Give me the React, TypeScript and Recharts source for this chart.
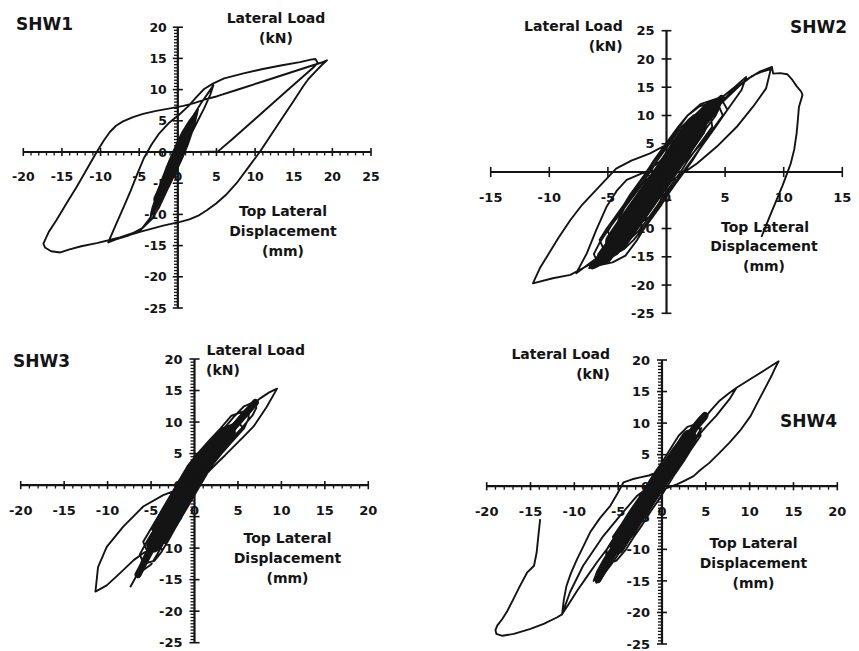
import React from 'react';
import { LineChart, Line, XAxis, YAxis, ReferenceLine, ReferenceDot } from 'recharts';

// ---------------- data (displacement mm, load kN) ----------------
const shw1Curve: number[][] = [
  [0, 0], [0.45, 1.5], [0.85, 2.5], [1.2, 3.2],
  [1.0, 2.2], [0.7, 1.0], [0.3, -0.6], [-0.25, -2.2], [-0.8, -3.7], [-1.5, -5.0],
  [-1.35, -3.8], [-1.0, -2.6], [-0.55, -1.2], [-0.1, 0.3], [0.4, 1.8], [1.0, 3.3], [1.8, 4.8],
  [1.5, 3.4], [1.1, 1.8], [0.6, 0.1], [0.0, -1.8], [-0.7, -3.8], [-1.5, -5.8], [-2.3, -7.2],
  [-2.2, -6.0], [-1.8, -4.5], [-1.3, -2.8], [-0.75, -0.9], [-0.2, 1.0], [0.5, 2.8], [1.3, 4.5], [2.3, 6.0],
  [2.0, 4.5], [1.6, 2.8], [1.05, 0.8], [0.4, -1.2], [-0.4, -3.4], [-1.2, -5.6], [-2.1, -7.5], [-3.0, -9.0],
  [-2.9, -7.8], [-2.6, -6.4], [-2.1, -4.6], [-1.5, -2.6], [-0.9, -0.8], [-0.2, 1.2], [0.6, 3.2], [1.5, 5.0], [2.6, 6.8],
  [2.3, 5.2], [1.9, 3.4], [1.3, 1.2], [0.6, -0.9], [-0.2, -3.0], [-1.1, -5.4], [-2.0, -7.4], [-2.8, -9.0], [-3.5, -10.2],
  [-3.3, -9.0], [-2.8, -7.2], [-2.2, -5.2], [-1.5, -3.0], [-0.8, -0.9], [0.0, 1.4], [0.9, 3.6], [2.0, 5.8], [3.0, 7.8], [4.0, 9.6], [4.6, 10.7],
  [4.2, 9.2], [3.4, 7.0], [2.5, 4.8], [1.6, 2.6], [0.8, 0.6], [0.0, -1.6], [-0.9, -4.0], [-1.9, -6.6], [-2.9, -9.0], [-3.6, -10.6],
  [-4.6, -12.2], [-6.4, -13.4], [-8.0, -14.0], [-9.0, -14.5],
  [-8.7, -13.6], [-8.0, -11.6], [-7.0, -8.8], [-6.1, -6.2], [-5.2, -3.4], [-4.4, -1.0], [-3.4, 1.2], [-2.4, 3.0], [-1.2, 4.6], [0.2, 6.0], [1.4, 7.4], [2.4, 8.8], [3.4, 10.1], [4.6, 11.0], [6.0, 11.8], [8.5, 12.6], [11.0, 13.3], [13.5, 13.9], [15.8, 14.4], [17.2, 14.8], [17.8, 14.9], [18.1, 14.3], [17.5, 13.5],
  [14.0, 9.7], [10.0, 5.3], [7.0, 2.0], [5.2, 0.1],
  [2.5, 0.0], [0.6, 0.0],
  [-0.2, -2.4], [-1.2, -5.6], [-2.4, -8.8], [-3.4, -10.8], [-4.9, -12.6], [-7.5, -13.7], [-10.5, -14.6], [-12.5, -15.1], [-14.0, -15.6], [-15.2, -16.1], [-16.4, -15.9], [-17.2, -15.3], [-17.4, -14.7],
  [-16.7, -12.8], [-15.7, -10.9], [-14.4, -8.2], [-13.1, -5.6], [-11.8, -2.8], [-10.5, 0.0], [-9.6, 1.8], [-8.8, 3.2], [-8.0, 4.2], [-7.1, 4.9], [-5.8, 5.6], [-4.5, 6.1], [-2.8, 6.6], [-1.0, 7.0], [0.7, 7.4], [2.0, 7.8], [3.0, 8.2], [3.7, 8.5], [5.0, 8.9], [8.0, 10.1], [11.0, 11.3], [14.0, 12.5], [17.0, 13.7], [18.5, 14.3], [19.3, 14.7],
  [18.6, 13.9], [17.9, 13.0], [16.9, 11.7], [16.2, 10.5], [14.9, 8.0], [13.6, 5.6], [12.1, 2.8], [10.6, 0.0], [9.1, -2.5], [7.6, -5.0], [6.2, -6.9], [5.0, -8.2], [3.8, -9.3], [2.8, -10.1], [1.5, -10.8], [0.3, -11.2], [-1.9, -11.8], [-4.9, -12.8], [-7.6, -13.8], [-9.0, -14.3],
];
const shw1Band: number[][] = [[-3.3, -9.8], [-1.6, -4.8], [0.0, 0.0], [1.2, 3.4], [2.3, 6.0]];
const shw1BandCore: number[][] = [[-2.6, -7.6], [-1.2, -3.6], [0.0, 0.0], [1.1, 3.0]];

const shw2Curve: number[][] = [
  [-0.1, 0], [0.3, 1.6], [0.7, 2.9], [1.2, 4.0],
  [1.1, 2.6], [0.6, 0.8], [0.0, -1.4], [-0.7, -3.0], [-1.8, -5.0],
  [-1.6, -3.4], [-1.2, -1.8], [-0.6, 0.0], [0.1, 1.9], [0.8, 3.9], [1.6, 5.6], [2.2, 7.0],
  [2.1, 5.6], [1.9, 4.0], [1.3, 2.0], [0.6, 0.0], [-0.1, -2.0], [-0.8, -4.0], [-1.6, -5.8], [-2.8, -8.0],
  [-2.9, -6.0], [-2.3, -4.0], [-1.6, -2.0], [-0.9, 0.0], [-0.2, 2.0], [0.3, 4.0], [1.2, 6.5], [2.0, 8.0], [2.9, 9.0],
  [3.2, 7.0], [2.2, 4.0], [1.6, 2.0], [0.9, 0.0], [0.2, -2.0], [-0.5, -4.0], [-1.1, -6.0], [-1.8, -8.0], [-2.6, -9.8], [-3.8, -11.0],
  [-4.1, -8.5], [-3.5, -6.0], [-2.8, -4.0], [-2.1, -2.0], [-1.4, 0.0], [-0.8, 2.0], [-0.1, 4.0], [0.6, 6.0], [1.3, 8.0], [2.3, 10.0], [3.7, 11.0],
  [3.9, 8.0], [3.2, 6.0], [2.5, 4.0], [1.8, 2.0], [1.2, 0.0], [0.5, -2.0], [-0.2, -4.0], [-0.8, -6.0], [-1.5, -8.0], [-2.4, -10.5], [-3.2, -12.0], [-4.5, -13.0],
  [-5.0, -10.5], [-4.3, -8.0], [-3.6, -6.0], [-2.9, -4.0], [-2.3, -2.0], [-1.6, 0.0], [-1.0, 2.0], [-0.3, 4.0], [0.4, 6.0], [1.1, 8.0], [1.8, 10.0], [2.8, 11.6], [4.3, 12.5],
  [4.8, 10.0], [4.1, 8.0], [3.4, 6.0], [2.8, 4.0], [2.1, 2.0], [1.4, 0.0], [0.7, -2.0], [0.0, -4.0], [-0.6, -6.0], [-1.3, -8.0], [-2.0, -10.0], [-2.8, -12.0], [-3.6, -13.6], [-5.1, -15.0],
  [-5.7, -12.0], [-5.1, -10.0], [-4.4, -8.0], [-3.7, -6.0], [-3.1, -4.0], [-2.4, -2.0], [-1.7, 0.0], [-1.1, 2.0], [-0.4, 4.0], [0.3, 6.0], [1.0, 8.0], [1.8, 10.0], [2.9, 12.0], [4.6, 13.2],
  [5.2, 11.0], [4.2, 8.0], [3.5, 6.0], [2.8, 4.0], [2.2, 2.0], [1.5, 0.0], [0.8, -2.0], [0.1, -4.0], [-0.5, -6.0], [-1.2, -8.0], [-1.9, -10.0], [-2.5, -12.0], [-3.5, -14.8], [-4.6, -16.0], [-5.8, -16.5],
  [-6.2, -14.5], [-5.7, -12.5], [-4.9, -10.0], [-4.0, -7.5], [-3.1, -5.0], [-2.0, -2.0], [-1.0, 0.0], [-0.1, 2.5], [0.6, 5.0], [1.5, 7.5], [2.4, 10.0], [3.4, 12.0], [4.8, 13.0],
  [4.2, 10.0], [3.3, 7.5], [2.4, 5.0], [1.6, 2.5], [0.8, 0.0], [0.0, -2.5], [-0.9, -5.0], [-1.7, -7.5], [-2.6, -10.0], [-3.4, -12.5], [-4.2, -14.5], [-5.5, -16.0], [-6.6, -17.0],
  [-6.2, -16.0], [-5.4, -15.0], [-4.6, -12.5], [-3.8, -10.0], [-3.0, -7.5], [-2.1, -5.0], [-1.2, -2.5], [-0.4, 0.0], [0.4, 2.5], [1.2, 5.0], [2.0, 7.5], [3.0, 10.0], [3.9, 12.0], [4.9, 13.5],
  [5.8, 15.0], [6.8, 16.8],
  [6.4, 14.5], [5.4, 11.6], [4.3, 8.4], [3.2, 5.6], [2.2, 3.2], [1.2, 1.1], [0.3, -0.6], [-0.2, -2.6], [-0.5, -5.0], [-0.7, -6.4], [-1.4, -7.9], [-2.4, -9.1], [-3.3, -10.0], [-4.6, -12.4], [-6.2, -15.6], [-7.7, -17.9],
  [-6.8, -14.4], [-6.0, -10.3], [-5.1, -6.1], [-4.2, -3.2], [-3.4, -1.4], [-2.4, -0.5], [-1.6, 0.2], [-0.6, 1.8], [0.6, 4.0], [2.0, 6.8], [3.5, 9.8], [4.8, 12.4], [6.2, 15.2], [7.3, 17.0], [8.1, 17.7], [8.9, 18.2],
  [8.5, 14.8], [7.4, 11.6], [6.0, 8.0], [4.3, 4.5], [2.6, 1.5], [1.4, -0.2], [0.4, -1.6], [-0.8, -4.6], [-2.2, -8.4], [-3.6, -11.6], [-4.8, -13.6], [-6.4, -16.2], [-7.4, -17.3], [-8.2, -18.2], [-9.7, -18.8], [-11.4, -19.7],
  [-10.8, -17.0], [-10.0, -14.3], [-9.2, -11.6], [-8.2, -8.5], [-7.2, -5.8], [-6.2, -3.6], [-5.2, -1.4], [-4.3, 0.6], [-3.0, 2.0], [-1.4, 3.3], [0.15, 5.0], [1.7, 6.8], [3.1, 9.2], [4.0, 11.0], [5.4, 13.9], [6.8, 16.3], [8.0, 17.8], [9.0, 18.6],
  [9.1, 17.4], [9.7, 17.5], [10.3, 17.3], [10.7, 16.4], [11.1, 15.2], [11.5, 14.2], [11.6, 13.6], [11.3, 11.5], [11.2, 9.0], [11.1, 6.8], [10.9, 4.0], [10.6, 1.5], [10.3, -0.2], [9.9, -2.4], [9.5, -4.4], [8.8, -7.9], [8.1, -11.5],
];
const shw2Band: number[][] = [[-6.3, -16.6], [-5.1, -15.0], [-3.5, -10.0], [-1.8, -5.0], [-0.1, 0.0], [1.5, 5.0], [3.3, 10.0], [4.7, 13.0]];
const shw2BandMid: number[][] = [[-5.3, -15.0], [-3.5, -10.0], [-1.8, -5.0], [-0.1, 0.0], [1.5, 5.0], [3.2, 9.8], [3.9, 11.4]];
const shw2BandCore: number[][] = [[-4.3, -12.4], [-3.5, -10.0], [-1.8, -5.0], [-0.1, 0.0], [1.5, 5.0], [2.5, 8.0]];

const shw3Curve: number[][] = [
  [-0.7, 0], [-0.3, 1.0], [0.2, 2.2], [0.6, 3.2], [1.1, 4.0],
  [0.9, 3.0], [0.25, 1.5], [-0.4, 0.0], [-1.25, -2.0], [-1.9, -3.5], [-2.8, -5.0],
  [-2.55, -3.0], [-1.7, -1.0], [-0.85, 1.0], [0.0, 3.0], [1.15, 5.0], [2.4, 6.0],
  [2.35, 5.0], [1.2, 3.0], [0.35, 1.0], [-0.5, -1.0], [-1.35, -3.0], [-2.2, -5.0], [-3.65, -7.0],
  [-3.7, -5.0], [-2.85, -3.0], [-2.0, -1.0], [-1.15, 1.0], [-0.3, 3.0], [0.85, 5.0], [2.15, 7.0], [3.75, 8.0],
  [3.95, 7.0], [2.65, 5.0], [1.5, 3.0], [0.65, 1.0], [-0.2, -1.0], [-1.05, -3.0], [-1.9, -5.0], [-2.75, -7.0], [-4.5, -9.0],
  [-4.85, -7.0], [-4.0, -5.0], [-3.15, -3.0], [-2.3, -1.0], [-1.45, 1.0], [-0.6, 3.0], [0.55, 5.0], [1.85, 7.0], [3.2, 9.0], [5.05, 10.0],
  [5.6, 9.0], [4.25, 7.0], [2.95, 5.0], [1.8, 3.0], [0.95, 1.0], [0.1, -1.0], [-0.75, -3.0], [-1.6, -5.0], [-2.45, -7.0], [-3.3, -9.0], [-5.3, -11.0],
  [-5.9, -9.0], [-5.05, -7.0], [-4.2, -5.0], [-3.35, -3.0], [-2.5, -1.0], [-1.65, 1.0], [-0.8, 3.0], [0.35, 5.0], [1.65, 7.0], [3.0, 9.0], [4.25, 11.0], [6.3, 12.0],
  [6.2, 10.5], [5.7, 9.0], [4.4, 7.0], [3.1, 5.0], [1.95, 3.0], [1.1, 1.0], [0.25, -1.0], [-0.6, -3.0], [-1.45, -5.0], [-2.3, -7.0], [-3.1, -9.0], [-3.9, -10.8], [-4.6, -12.0], [-5.85, -12.5],
  [-6.3, -11.0], [-5.5, -9.0], [-4.65, -7.0], [-3.8, -5.0], [-2.95, -3.0], [-2.1, -1.0], [-1.25, 1.0], [-0.4, 3.0], [0.75, 5.0], [2.05, 7.0], [3.4, 9.0], [4.65, 11.0], [5.7, 12.5], [7.1, 13.3],
  [7.1, 12.2], [6.65, 11.0], [5.4, 9.0], [4.05, 7.0], [2.75, 5.0], [1.6, 3.0], [0.75, 1.0], [-0.1, -1.0], [-0.95, -3.0], [-1.8, -5.0], [-2.65, -7.0], [-3.5, -9.0], [-4.3, -11.0], [-5.0, -12.6], [-6.4, -14.0],
  [-6.05, -12.0], [-5.3, -10.0], [-4.45, -8.0], [-3.6, -6.0], [-2.8, -4.0], [-1.95, -2.0], [-1.1, 0.0], [-0.25, 2.0], [0.7, 4.0], [2.0, 6.0], [3.35, 8.0], [4.65, 10.0], [5.9, 12.0], [6.9, 13.0],
  [7.6, 13.8], [8.6, 14.7], [9.5, 15.3],
  [8.3, 12.4], [6.8, 9.3], [5.6, 7.6], [4.5, 6.1], [3.5, 4.7], [2.6, 3.5], [1.8, 2.4], [1.1, 1.4], [0.4, 0.3], [-0.5, -0.5], [-1.7, -0.6],
  [-3.6, -1.6], [-5.9, -3.4], [-8.2, -6.6], [-10.1, -9.8], [-11.1, -13.0], [-11.4, -16.9],
  [-10.1, -15.9], [-8.6, -14.0], [-7.0, -11.9], [-5.9, -10.8], [-4.4, -9.7],
  [-3.4, -7.2], [-2.4, -4.6], [-3.6, -8.2], [-5.0, -10.8], [-6.2, -13.2], [-7.4, -16.2],
];
const shw3Band: number[][] = [[-6.5, -14.2], [-4.9, -10.0], [-2.8, -5.0], [-0.7, 0.0], [0.8, 3.5], [2.4, 6.0], [4.4, 9.0], [6.3, 12.0], [7.0, 13.1]];
const shw3BandCore: number[][] = [[-4.7, -9.5], [-2.8, -5.0], [-0.7, 0.0], [0.8, 3.5], [2.4, 6.0], [3.9, 8.3]];

const shw4Curve: number[][] = [
  [-0.6, 0], [0.0, 1.5], [0.6, 2.8], [1.3, 4.0],
  [1.0, 2.6], [0.4, 1.0], [-0.3, 0.0], [-1.0, -1.6], [-1.9, -3.4], [-2.95, -5.0],
  [-2.6, -3.0], [-1.9, -1.5], [-1.2, 0.0], [-0.5, 1.5], [0.2, 3.0], [0.9, 4.5], [2.2, 6.0],
  [1.9, 4.5], [1.3, 3.0], [0.7, 1.5], [0.0, 0.0], [-0.7, -1.5], [-1.4, -3.0], [-2.1, -4.5], [-2.9, -6.0], [-4.1, -7.5],
  [-4.0, -6.0], [-3.3, -4.5], [-2.6, -3.0], [-1.9, -1.5], [-1.5, 0.0], [-0.8, 1.5], [-0.1, 3.0], [0.6, 4.5], [1.3, 6.0], [2.1, 7.3], [3.2, 8.2],
  [3.1, 6.0], [2.4, 4.5], [1.7, 3.0], [1.0, 1.5], [0.3, 0.0], [-0.4, -1.5], [-1.1, -3.0], [-1.8, -4.5], [-2.5, -6.0], [-3.2, -7.5], [-4.1, -9.0], [-5.3, -10.0],
  [-5.6, -8.0], [-4.6, -6.0], [-3.7, -4.0], [-2.7, -2.0], [-1.8, 0.0], [-0.9, 2.0], [0.1, 4.0], [1.0, 6.0], [1.9, 8.0], [2.9, 9.4], [4.2, 10.0],
  [4.4, 8.0], [3.4, 6.0], [2.5, 4.0], [1.5, 2.0], [0.6, 0.0], [-0.3, -2.0], [-1.3, -4.0], [-2.2, -6.0], [-3.2, -8.0], [-4.1, -10.0], [-5.2, -11.8], [-6.5, -12.5],
  [-6.3, -10.0], [-5.4, -8.0], [-4.4, -6.0], [-3.5, -4.0], [-2.5, -2.0], [-1.6, 0.0], [-0.7, 2.0], [0.4, 4.0], [1.5, 5.6], [2.6, 7.0], [3.7, 8.8], [4.7, 10.6], [5.7, 12.2], [6.6, 13.6], [7.6, 14.7], [8.5, 15.6],
  [7.7, 13.8], [6.9, 12.4], [6.2, 11.2], [5.0, 9.4], [3.9, 7.6], [3.0, 6.0], [2.1, 4.4], [1.3, 2.8], [0.6, 1.2], [-0.1, -0.4], [-1.0, -2.4], [-2.0, -4.6], [-3.0, -6.8], [-4.0, -8.8], [-5.0, -10.8], [-5.9, -12.6], [-6.8, -14.2], [-7.5, -15.3],
  [-7.1, -13.0], [-6.4, -11.5], [-5.7, -10.0], [-4.8, -8.0], [-3.8, -6.0], [-2.9, -4.0], [-2.0, -2.0], [-1.0, 0.0], [-0.1, 2.0], [0.9, 4.0], [1.8, 6.0], [2.8, 8.0], [3.9, 9.8], [5.1, 10.8],
  [4.0, 9.0], [3.3, 7.5], [2.6, 6.0], [1.7, 4.0], [0.7, 2.0], [-0.2, 0.0], [-1.1, -2.0], [-2.1, -4.0], [-3.0, -6.0], [-4.0, -8.0], [-4.9, -10.0], [-5.9, -12.0], [-6.8, -13.5], [-7.8, -15.0],
  [-7.4, -13.5], [-6.6, -11.5], [-5.8, -9.8], [-4.9, -8.0], [-3.9, -6.0], [-3.0, -4.0], [-2.1, -2.0], [-1.2, 0.0], [-0.3, 2.0], [0.7, 4.0], [1.6, 5.6], [2.6, 7.2], [3.6, 8.8], [4.7, 10.6], [5.7, 12.2], [6.6, 13.6], [7.6, 14.7], [8.5, 15.6], [10.0, 16.9], [11.6, 18.3], [13.3, 19.8],
  [12.9, 18.7], [12.5, 17.5], [11.9, 15.9], [11.1, 13.8], [10.1, 11.1], [8.9, 8.8], [7.7, 6.9], [6.5, 5.2], [5.4, 3.7], [4.4, 2.6], [3.6, 1.6], [2.6, 0.9], [1.7, 0.3], [0.9, -0.1], [0.2, -0.5],
  [-0.6, -1.2], [-1.6, -2.4], [-2.9, -4.0], [-4.0, -5.8], [-5.2, -8.0], [-6.3, -10.0], [-7.4, -12.0], [-8.6, -14.4], [-9.7, -16.6], [-10.6, -18.6], [-11.4, -20.3],
  [-11.2, -18.0], [-10.9, -15.8], [-10.4, -13.8], [-9.7, -11.6], [-9.0, -9.6], [-8.2, -7.3], [-7.1, -5.1], [-5.9, -3.1], [-5.1, -1.2], [-4.4, 0.6], [-3.4, 1.1], [-2.5, 1.4], [-1.5, 1.7], [-0.6, 2.2], [0.1, 2.4], [0.9, 2.9], [1.8, 3.9], [2.8, 5.6], [3.8, 7.6], [4.5, 9.2],
  [3.6, 6.8], [2.6, 4.4], [1.4, 2.2], [0.1, 1.6], [-1.4, 0.0], [-2.9, -1.6], [-4.8, -4.7], [-6.7, -7.9], [-9.0, -12.6], [-10.5, -16.8], [-11.4, -20.3], [-12.0, -20.8],
  [-13.5, -21.8], [-15.0, -22.6], [-16.9, -23.4], [-18.2, -23.7], [-18.9, -23.4], [-19.0, -22.8], [-18.8, -22.1], [-18.2, -21.0], [-17.7, -19.9], [-17.0, -18.0], [-16.2, -15.8], [-15.4, -13.7], [-14.6, -12.6], [-14.3, -10.5], [-14.1, -7.8], [-13.9, -5.2],
];
const shw4Band: number[][] = [[-7.3, -14.8], [-5.3, -10.0], [-3.0, -5.0], [-0.6, 0.0], [1.8, 5.0], [4.1, 10.0], [4.9, 11.2]];
const shw4BandCore: number[][] = [[-5.1, -9.6], [-3.0, -5.0], [-0.6, 0.0], [1.8, 5.0], [3.1, 7.8]];

// tick values
const xTicks1 = [-20, -15, -10, -5, 0, 5, 10, 15, 20, 25];
const yTicks1 = [20, 15, 10, 5, 0, -5, -10, -15, -20, -25];
const xTicks2 = [-15, -10, -5, 0, 5, 10, 15];
const yTicks2 = [25, 20, 15, 10, 5, 0, -5, -10, -15, -20, -25];
const xTicks3 = [-20, -15, -10, -5, 0, 5, 10, 15, 20];
const yTicks3 = [20, 15, 10, 5, 0, -5, -10, -15, -20, -25];
const xTicks4 = [-20, -15, -10, -5, 0, 5, 10, 15, 20];
const yTicks4 = [20, 15, 10, 5, 0, -5, -10, -15, -20, -25];

const W = 859;
const H = 651;
const INK = '#141414';
const FONT = '"DejaVu Sans", "Liberation Sans", sans-serif';

const minorBetween = (lo: number, hi: number, step: number, majors: number[]) => {
  const out: number[] = [];
  for (let v = lo; v <= hi + 1e-9; v += step) {
    const r = Math.round(v * 100) / 100;
    if (!majors.includes(r)) out.push(r);
  }
  return out;
};

interface Core { data: number[][]; w: number }
interface PanelCfg {
  curve: number[][];
  cores: Core[];
  xDomain: [number, number];
  yDomain: [number, number];
  margin: { top: number; right: number; bottom: number; left: number };
  xTicks: number[];
  yTicks: number[];
  xMinor: number[];
  yMinor: number[];
  xMajHalf: number;
  yMajHalf: number;
  xMinLen: number;
  yMinLen: number;
  xLabelDy: number;
  yLabelDx: number;
  fontSize: number;
}

const Panel = ({ cfg }: { cfg: PanelCfg }) => {
  const pts = cfg.curve.map(([x, y]) => ({ x, y }));
  const [x0, x1] = cfg.xDomain;
  const [y0, y1] = cfg.yDomain;
  const tickStroke = { stroke: INK, strokeWidth: 1.6 };
  return (
    <div style={{ position: 'absolute', left: 0, top: 0 }}>
      <LineChart width={W} height={H} data={pts} margin={cfg.margin}>
        <XAxis type="number" dataKey="x" domain={cfg.xDomain} hide allowDataOverflow />
        <YAxis type="number" domain={cfg.yDomain} hide allowDataOverflow />
        {cfg.xMinor.map((v) => (
          <ReferenceLine key={'xm' + v} segment={[{ x: v, y: 0 }, { x: v, y: -cfg.xMinLen }]} ifOverflow="visible" {...tickStroke} strokeWidth={1.3} />
        ))}
        {cfg.yMinor.map((v) => (
          <ReferenceLine key={'ym' + v} segment={[{ x: 0, y: v }, { x: -cfg.yMinLen, y: v }]} ifOverflow="visible" {...tickStroke} strokeWidth={1.3} />
        ))}
        {cfg.xTicks.map((v) => (
          <ReferenceLine key={'xt' + v} segment={[{ x: v, y: -cfg.xMajHalf }, { x: v, y: cfg.xMajHalf }]} ifOverflow="visible" {...tickStroke} />
        ))}
        {cfg.yTicks.map((v) => (
          <ReferenceLine key={'yt' + v} segment={[{ x: -cfg.yMajHalf, y: v }, { x: cfg.yMajHalf, y: v }]} ifOverflow="visible" {...tickStroke} />
        ))}
        <ReferenceLine segment={[{ x: x0, y: 0 }, { x: x1, y: 0 }]} ifOverflow="visible" stroke={INK} strokeWidth={2.2} />
        <ReferenceLine segment={[{ x: 0, y: y0 }, { x: 0, y: y1 }]} ifOverflow="visible" stroke={INK} strokeWidth={2.2} />
        {cfg.xTicks.map((v) => (
          <ReferenceDot
            key={'xl' + v}
            x={v}
            y={0}
            r={0}
            ifOverflow="visible"
            shape={(p: any) => (
              <text x={p.cx} y={p.cy + cfg.xLabelDy} textAnchor="middle" fontFamily={FONT} fontWeight="bold" fontSize={cfg.fontSize} fill={INK}>
                {String(v)}
              </text>
            )}
          />
        ))}
        {cfg.yTicks.map((v) => (
          <ReferenceDot
            key={'yl' + v}
            x={0}
            y={v}
            r={0}
            ifOverflow="visible"
            shape={(p: any) => (
              <text x={p.cx - cfg.yLabelDx} y={p.cy + cfg.fontSize * 0.36} textAnchor="end" fontFamily={FONT} fontWeight="bold" fontSize={cfg.fontSize} fill={INK}>
                {String(v)}
              </text>
            )}
          />
        ))}
        {cfg.cores.map((c, i) => (
          <Line
            key={'core' + i}
            data={c.data.map(([x, y]) => ({ x, y }))}
            type="monotone"
            dataKey="y"
            stroke={INK}
            strokeWidth={c.w}
            strokeLinecap="round"
            strokeLinejoin="round"
            dot={false}
            activeDot={false}
            isAnimationActive={false}
          />
        ))}
        <Line
          type="linear"
          dataKey="y"
          stroke={INK}
          strokeWidth={1.9}
          strokeLinejoin="round"
          dot={false}
          activeDot={false}
          isAnimationActive={false}
        />
      </LineChart>
    </div>
  );
};

const panels: PanelCfg[] = [
  {
    curve: shw1Curve,
    cores: [{ data: shw1Band, w: 4 }, { data: shw1BandCore, w: 9 }],
    xDomain: [-20, 25],
    yDomain: [-25, 20],
    margin: { top: 27.2, right: W - 371, bottom: H - 308, left: 23.3 },
    xTicks: xTicks1,
    yTicks: yTicks1,
    xMinor: minorBetween(-20, 25, 1, xTicks1),
    yMinor: minorBetween(-25, 20, 0.5, yTicks1),
    xMajHalf: 0.65,
    yMajHalf: 0.65,
    xMinLen: 0.55,
    yMinLen: 0.5,
    xLabelDy: 29,
    yLabelDx: 11,
    fontSize: 12.5,
  },
  {
    curve: shw2Curve,
    cores: [{ data: shw2Band, w: 7 }, { data: shw2BandMid, w: 15 }, { data: shw2BandCore, w: 22 }],
    xDomain: [-15, 15],
    yDomain: [-25, 25],
    margin: { top: 30.7, right: W - 842.3, bottom: H - 313.3, left: 490.7 },
    xTicks: xTicks2,
    yTicks: yTicks2,
    xMinor: [],
    yMinor: [],
    xMajHalf: 0.9,
    yMajHalf: 0.42,
    xMinLen: 0,
    yMinLen: 0,
    xLabelDy: 30,
    yLabelDx: 12,
    fontSize: 13,
  },
  {
    curve: shw3Curve,
    cores: [{ data: shw3Band, w: 7 }, { data: shw3BandCore, w: 15 }],
    xDomain: [-20, 20],
    yDomain: [-25, 20],
    margin: { top: 359, right: W - 368.3, bottom: H - 642.7, left: 20.7 },
    xTicks: xTicks3,
    yTicks: yTicks3,
    xMinor: minorBetween(-20, 20, 1, xTicks3),
    yMinor: minorBetween(-25, 20, 0.5, yTicks3),
    xMajHalf: 0.65,
    yMajHalf: 0.58,
    xMinLen: 0.55,
    yMinLen: 0.46,
    xLabelDy: 30,
    yLabelDx: 12,
    fontSize: 13,
  },
  {
    curve: shw4Curve,
    cores: [{ data: shw4Band, w: 7 }, { data: shw4BandCore, w: 15 }],
    xDomain: [-20, 20],
    yDomain: [-25, 20],
    margin: { top: 360, right: W - 837.3, bottom: H - 644, left: 486.7 },
    xTicks: xTicks4,
    yTicks: yTicks4,
    xMinor: minorBetween(-20, 20, 1, xTicks4),
    yMinor: minorBetween(-25, 20, 0.5, yTicks4),
    xMajHalf: 0.65,
    yMajHalf: 0.57,
    xMinLen: 0.55,
    yMinLen: 0.46,
    xLabelDy: 30,
    yLabelDx: 12,
    fontSize: 13,
  },
];

type Txt = { t: string; x: number; y: number; a: 'start' | 'middle' | 'end'; s: number };
const titles: Txt[] = [
  { t: 'SHW1', x: 16, y: 29.5, a: 'start', s: 17 },
  { t: 'Lateral Load', x: 276, y: 22.7, a: 'middle', s: 14 },
  { t: '(kN)', x: 276, y: 42.5, a: 'middle', s: 14 },
  { t: 'Top Lateral', x: 283, y: 216, a: 'middle', s: 14 },
  { t: 'Displacement', x: 283, y: 236, a: 'middle', s: 14 },
  { t: '(mm)', x: 283, y: 255.5, a: 'middle', s: 14 },

  { t: 'SHW2', x: 847, y: 33.3, a: 'end', s: 17 },
  { t: 'Lateral Load', x: 622.7, y: 31, a: 'end', s: 14 },
  { t: '(kN)', x: 622.7, y: 50.5, a: 'end', s: 14 },
  { t: 'Top Lateral', x: 765, y: 231.5, a: 'middle', s: 14 },
  { t: 'Displacement', x: 764, y: 251, a: 'middle', s: 14 },
  { t: '(mm)', x: 764, y: 270.5, a: 'middle', s: 14 },

  { t: 'SHW3', x: 13, y: 366.7, a: 'start', s: 17 },
  { t: 'Lateral Load', x: 206.5, y: 355, a: 'start', s: 14 },
  { t: '(kN)', x: 206, y: 375, a: 'start', s: 14 },
  { t: 'Top Lateral', x: 287.5, y: 542.5, a: 'middle', s: 14 },
  { t: 'Displacement', x: 287.5, y: 562.5, a: 'middle', s: 14 },
  { t: '(mm)', x: 287.5, y: 583, a: 'middle', s: 14 },

  { t: 'Lateral Load', x: 610, y: 359, a: 'end', s: 14 },
  { t: '(kN)', x: 610, y: 379, a: 'end', s: 14 },
  { t: 'SHW4', x: 780, y: 427, a: 'start', s: 17 },
  { t: 'Top Lateral', x: 753.5, y: 547.5, a: 'middle', s: 14 },
  { t: 'Displacement', x: 753.5, y: 567.5, a: 'middle', s: 14 },
  { t: '(mm)', x: 753.5, y: 588, a: 'middle', s: 14 },
];

export default function App() {
  return (
    <div style={{ position: 'absolute', left: 0, top: 0, width: W, height: H, background: '#fff', overflow: 'hidden' }}>
      {panels.map((cfg, i) => (
        <Panel key={i} cfg={cfg} />
      ))}
      <svg width={W} height={H} style={{ position: 'absolute', left: 0, top: 0, pointerEvents: 'none' }}>
        {titles.map((tx, i) => (
          <text key={i} x={tx.x} y={tx.y} textAnchor={tx.a} fontFamily={FONT} fontWeight="bold" fontSize={tx.s} fill={INK}>
            {tx.t}
          </text>
        ))}
      </svg>
    </div>
  );
}
